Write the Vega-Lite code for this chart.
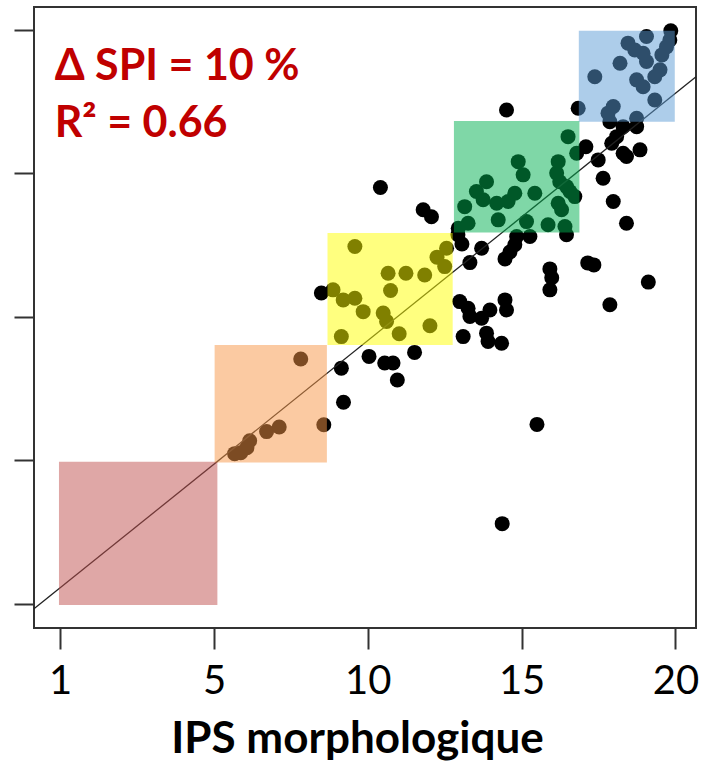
{
  "$schema": "https://vega.github.io/schema/vega-lite/v6.json",
  "autosize": "none",
  "width": 662,
  "height": 621,
  "padding": {"left": 34, "top": 7, "right": 8, "bottom": 133},
  "background": "white",
  "config": {
    "view": {"stroke": "#333333", "strokeWidth": 2},
    "font": "Lato"
  },
  "datasets": {
    "pts": [
      {"ips":8.49,"spi":10.83},{"ips":12.93,"spi":12.86},{"ips":13.06,"spi":12.54},{"ips":13.70,"spi":12.39},
      {"ips":13.32,"spi":11.89},{"ips":14.78,"spi":12.51},{"ips":14.62,"spi":12.26},{"ips":14.46,"spi":12.02},
      {"ips":15.92,"spi":11.67},{"ips":15.98,"spi":11.36},{"ips":15.92,"spi":10.94},{"ips":17.15,"spi":11.88},
      {"ips":17.35,"spi":11.81},{"ips":19.12,"spi":11.21},{"ips":17.87,"spi":10.42},{"ips":12.99,"spi":10.53},
      {"ips":13.26,"spi":10.30},{"ips":13.32,"spi":10.01},{"ips":13.70,"spi":9.95},{"ips":13.97,"spi":10.24},
      {"ips":14.46,"spi":10.59},{"ips":14.51,"spi":10.24},{"ips":13.10,"spi":9.31},{"ips":13.86,"spi":9.43},
      {"ips":13.91,"spi":9.14},{"ips":14.35,"spi":9.08},{"ips":10.04,"spi":8.62},{"ips":10.55,"spi":8.39},
      {"ips":10.82,"spi":8.39},{"ips":10.96,"spi":7.80},{"ips":11.52,"spi":8.76},{"ips":9.14,"spi":8.21},
      {"ips":9.21,"spi":7.02},{"ips":15.50,"spi":6.25},{"ips":14.37,"spi":2.79},{"ips":10.41,"spi":14.51},
      {"ips":11.80,"spi":13.73},{"ips":12.07,"spi":13.49},{"ips":14.51,"spi":17.21},{"ips":17.87,"spi":16.80},
      {"ips":18.30,"spi":16.63},{"ips":18.74,"spi":16.63},{"ips":18.09,"spi":16.28},{"ips":17.93,"spi":16.05},
      {"ips":18.30,"spi":15.70},{"ips":18.41,"spi":15.59},{"ips":18.85,"spi":15.82},{"ips":17.49,"spi":15.47},
      {"ips":17.65,"spi":14.83},{"ips":17.09,"spi":15.93},{"ips":17.98,"spi":14.02},{"ips":18.41,"spi":13.26},
      {"ips":16.46,"spi":12.86},{"ips":14.84,"spi":12.80},{"ips":15.27,"spi":12.80},{"ips":19.85,"spi":19.97},
      {"ips":16.84,"spi":17.27},
      {"ips":7.82,"spi":8.53},{"ips":8.57,"spi":6.24},{"ips":7.12,"spi":6.16},{"ips":6.71,"spi":6.00},
      {"ips":6.16,"spi":5.68},{"ips":6.07,"spi":5.44},{"ips":5.87,"spi":5.26},{"ips":5.67,"spi":5.23},
      {"ips":9.58,"spi":12.45},{"ips":12.25,"spi":12.08},{"ips":12.56,"spi":12.39},{"ips":12.50,"spi":11.75},
      {"ips":10.66,"spi":11.52},{"ips":11.24,"spi":11.52},{"ips":11.85,"spi":11.46},{"ips":8.87,"spi":10.94},
      {"ips":9.20,"spi":10.59},{"ips":9.58,"spi":10.65},{"ips":10.74,"spi":10.92},{"ips":9.85,"spi":10.18},
      {"ips":10.50,"spi":10.13},{"ips":10.61,"spi":9.84},{"ips":11.02,"spi":9.41},{"ips":12.02,"spi":9.69},
      {"ips":9.14,"spi":9.31},
      {"ips":16.51,"spi":16.28},{"ips":16.79,"spi":15.70},{"ips":14.89,"spi":15.41},{"ips":15.05,"spi":14.95},
      {"ips":13.86,"spi":14.71},{"ips":13.53,"spi":14.37},{"ips":13.75,"spi":14.08},{"ips":13.15,"spi":13.84},
      {"ips":14.19,"spi":13.96},{"ips":14.56,"spi":14.02},{"ips":14.78,"spi":14.31},{"ips":15.43,"spi":14.31},
      {"ips":16.19,"spi":15.41},{"ips":16.14,"spi":15.01},{"ips":16.24,"spi":14.71},{"ips":16.46,"spi":14.54},
      {"ips":16.57,"spi":14.37},{"ips":16.73,"spi":14.19},{"ips":16.19,"spi":13.96},{"ips":16.30,"spi":13.73},
      {"ips":14.24,"spi":13.38},{"ips":15.16,"spi":13.32},{"ips":15.86,"spi":13.21},{"ips":16.41,"spi":13.15},
      {"ips":13.26,"spi":13.26},{"ips":12.94,"spi":13.09},
      {"ips":19.06,"spi":19.77},{"ips":19.82,"spi":19.65},{"ips":19.71,"spi":19.41},{"ips":19.56,"spi":19.13},
      {"ips":18.46,"spi":19.54},{"ips":18.68,"spi":19.30},{"ips":18.95,"spi":19.19},{"ips":19.06,"spi":18.90},
      {"ips":18.20,"spi":18.84},{"ips":17.38,"spi":18.37},{"ips":19.50,"spi":18.61},{"ips":19.33,"spi":18.37},
      {"ips":18.74,"spi":18.26},{"ips":18.95,"spi":18.02},{"ips":19.33,"spi":17.56},{"ips":17.98,"spi":17.33},
      {"ips":17.81,"spi":17.10},{"ips":18.74,"spi":16.92}
    ],
    "rects": [
      {"cls":"1","x":-0.04,"x2":5.11,"y":-0.045,"y2":4.95},
      {"cls":"2","x":5.02,"x2":8.67,"y":4.92,"y2":9.02},
      {"cls":"3","x":8.69,"x2":12.76,"y":9.02,"y2":12.92},
      {"cls":"4","x":12.8,"x2":16.88,"y":12.94,"y2":16.83},
      {"cls":"5","x":16.86,"x2":19.98,"y":16.8,"y2":19.97}
    ],
    "fit": [{"ips":-0.852,"spi":-0.18},{"ips":20.67,"spi":18.37}],
    "notes": [
      {"ips":-0.18,"spi":18.26,"txt":"Δ SPI = 10 %"},
      {"ips":-0.18,"spi":16.27,"txt":"R² = 0.66"}
    ]
  },
  "layer": [
    {
      "data": {"name": "pts"},
      "mark": {"type": "point", "shape": "circle", "filled": true, "size": 225, "color": "black", "opacity": 1},
      "encoding": {
        "x": {"field": "ips", "type": "quantitative",
              "scale": {"domain": [-0.852, 20.67], "nice": false, "zero": false},
              "axis": {"values": [0,5,10,15,20], "labelExpr": "datum.value == 0 ? '1' : datum.label",
                       "domain": false, "grid": false, "tickSize": 21, "tickWidth": 2, "tickColor": "#333333",
                       "labelFont": "Lato", "labelFontSize": 40, "labelColor": "black", "labelBaseline": "alphabetic",
                       "labelPadding": 44, "labelFlush": false,
                       "title": "IPS morphologique", "titleFont": "Lato", "titleFontSize": 44, "titleFontWeight": "bold",
                       "titleColor": "black", "titlePadding": 16, "titleX": 323}},
        "y": {"field": "spi", "type": "quantitative",
              "scale": {"domain": [-0.847, 20.80], "nice": false, "zero": false},
              "axis": {"values": [0,5,10,15,20], "labels": false, "domain": false, "grid": false,
                       "tickSize": 20, "tickWidth": 2, "tickColor": "#333333", "title": null}}
      }
    },
    {
      "data": {"name": "fit"},
      "mark": {"type": "line", "color": "#222222", "strokeWidth": 1.3},
      "encoding": {
        "x": {"field": "ips", "type": "quantitative"},
        "y": {"field": "spi", "type": "quantitative"}
      }
    },
    {
      "data": {"name": "rects"},
      "mark": {"type": "rect", "opacity": 0.5},
      "encoding": {
        "x": {"field": "x", "type": "quantitative"},
        "x2": {"field": "x2"},
        "y": {"field": "y", "type": "quantitative"},
        "y2": {"field": "y2"},
        "color": {"field": "cls", "type": "nominal", "legend": null,
                  "scale": {"domain": ["1","2","3","4","5"], "range": ["#C0504D","#F79646","#FFFF00","#00B050","#5B9BD5"]}}
      }
    },
    {
      "data": {"name": "notes"},
      "mark": {"type": "text", "align": "left", "baseline": "alphabetic", "font": "Lato", "fontSize": 43, "fontWeight": "bold", "color": "#C00000"},
      "encoding": {
        "x": {"field": "ips", "type": "quantitative"},
        "y": {"field": "spi", "type": "quantitative"},
        "text": {"field": "txt"}
      }
    }
  ]
}
